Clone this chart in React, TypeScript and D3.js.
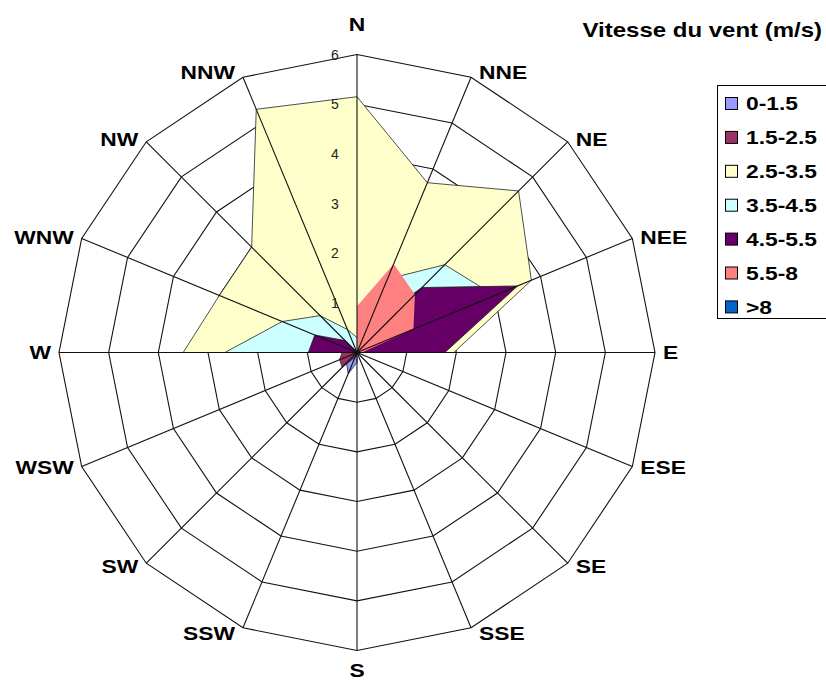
import React from "react";
import * as d3 from "d3";

// ---- data ----
const directions = ["N", "NNE", "NE", "NEE", "E", "ESE", "SE", "SSE", "S", "SSW", "SW", "WSW", "W", "WNW", "NW", "NNW"];
const speedClasses = ["0-1.5", "1.5-2.5", "2.5-3.5", "3.5-4.5", "4.5-5.5", "5.5-8", ">8"];
const classColors = ["#9999FF", "#993366", "#FFFFCC", "#CCFFFF", "#660066", "#FF8080", "#0066CC"];
const classStroke = ["#222", "#222", "#222", "#222", "#222", "none", "#222"];

const s0_15 = [0, 0, 0, 0, 0, 0, 0, 0, 0.2, 0.46, 0.3, 0.1, 0.1, 0, 0, 0];
const s15_25 = [0, 0, 0, 0, 0, 0, 0, 0, 0, 0.1, 0.42, 0.38, 0.3, 0.1, 0, 0];
const s25_35 = [5.15, 3.7, 4.6, 3.8, 1.95, 0, 0, 0, 0, 0, 0, 0, 3.5, 3.0, 3.0, 5.3];
const s35_45 = [0.3, 1.6, 2.5, 3.0, 1.2, 0, 0, 0, 0, 0, 0, 0, 2.66, 1.63, 1.05, 0.5];
const s45_55 = [0, 0.6, 1.85, 3.5, 1.77, 0, 0, 0, 0, 0, 0, 0, 0.98, 0.92, 0.34, 0];
const s55_8 = [0.93, 1.93, 1.65, 1.23, 0.1, 0, 0, 0, 0, 0, 0, 0, 0, 0, 0, 0];
const s8 = [0, 0, 0, 0, 0, 0, 0, 0, 0, 0, 0, 0, 0, 0, 0, 0];
const seriesValues = [s0_15, s15_25, s25_35, s35_45, s45_55, s55_8, s8];

const ringTicks = [1, 2, 3, 4, 5, 6];
const title = "Vitesse du vent (m/s)";

// ---- layout ----
const W = 826;
const H = 684;
const cx = 357;
const cy = 352.5;
const maxR = 298;
const FONT = "Arial, 'Liberation Sans', sans-serif";
const SX = 1.2;
const LBL = 19;

const charW: Record<string, number> = { N: 0.722, E: 0.667, S: 0.667, W: 0.944 };
const textW = (s: string) => s.split("").reduce((a, c) => a + (charW[c] ?? 0.7), 0) * LBL * SX;

export default function App() {
  const rScale = d3.scaleLinear().domain([0, 6]).range([0, maxR]);
  const aScale = d3.scaleLinear().domain([0, directions.length]).range([0, 2 * Math.PI]);

  const radial = d3
    .lineRadial<number>()
    .angle((_d, i) => aScale(i))
    .radius((d) => rScale(d))
    .curve(d3.curveLinearClosed);

  const pt = (i: number, v: number) => {
    const a = aScale(i);
    return [cx + rScale(v) * Math.sin(a), cy - rScale(v) * Math.cos(a)];
  };

  const legendTop = 103.5;
  const legendStep = 33.9;

  return (
    <svg width={W} height={H} style={{ position: "absolute", left: 0, top: 0, background: "#fff" }}>
      <rect x={0} y={0} width={W} height={H} fill="#fff" />
      <g transform={`translate(${cx},${cy})`}>
        {ringTicks.map((t) => (
          <path
            key={"ring" + t}
            d={radial(directions.map(() => t)) || ""}
            fill="none"
            stroke="#111"
            strokeWidth={1.1}
          />
        ))}
        {seriesValues.map((vals, k) => (
          <path
            key={"s" + k}
            d={radial(vals) || ""}
            fill={classColors[k]}
            stroke={classStroke[k]}
            strokeWidth={0.8}
            strokeLinejoin="round"
          />
        ))}
      </g>
      {directions.map((d, i) => {
        const [x, y] = pt(i, 6);
        return <line key={"sp" + d} x1={cx} y1={cy} x2={x} y2={y} stroke="#111" strokeWidth={1.1} />;
      })}
      {ringTicks.map((t) => (
        <text
          key={"rl" + t}
          x={cx - 22}
          y={cy - rScale(t)}
          fontFamily={FONT}
          fontSize={14}
          textAnchor="middle"
          dominantBaseline="central"
          fill="#222"
        >
          {t}
        </text>
      ))}
      {directions.map((d, i) => {
        const a = aScale(i);
        const s = Math.sin(a);
        const c = Math.cos(a);
        const [vx, vy] = pt(i, 6);
        let lx: number, ly: number;
        if (Math.abs(s) < 0.01) {
          lx = vx;
          ly = vy - c * (c > 0 ? 30 : 20);
        } else {
          lx = vx + Math.sign(s) * (textW(d) / 2 + 8);
          ly = vy - c * Math.abs(c) * 6;
        }
        return (
          <text
            key={"dl" + d}
            transform={`translate(${lx},${ly}) scale(${SX},1)`}
            fontFamily={FONT}
            fontWeight="bold"
            fontSize={LBL}
            textAnchor="middle"
            dominantBaseline="central"
            fill="#000"
          >
            {d}
          </text>
        );
      })}
      <text
        transform={`translate(822,30) scale(${SX},1)`}
        fontFamily={FONT}
        fontWeight="bold"
        fontSize={20}
        textAnchor="end"
        dominantBaseline="central"
        fill="#000"
      >
        {title}
      </text>
      <rect x={717.5} y={85.5} width={120} height={233} fill="#fff" stroke="#000" strokeWidth={1} />
      {speedClasses.map((c, k) => {
        const y = legendTop + k * legendStep;
        return (
          <g key={"lg" + c}>
            <rect x={725.5} y={y - 6} width={12} height={12} fill={classColors[k]} stroke="#000" strokeWidth={1} />
            <text
              transform={`translate(746,${y}) scale(${SX},1)`}
              fontFamily={FONT}
              fontWeight="bold"
              fontSize={LBL}
              textAnchor="start"
              dominantBaseline="central"
              fill="#000"
            >
              {c}
            </text>
          </g>
        );
      })}
    </svg>
  );
}
